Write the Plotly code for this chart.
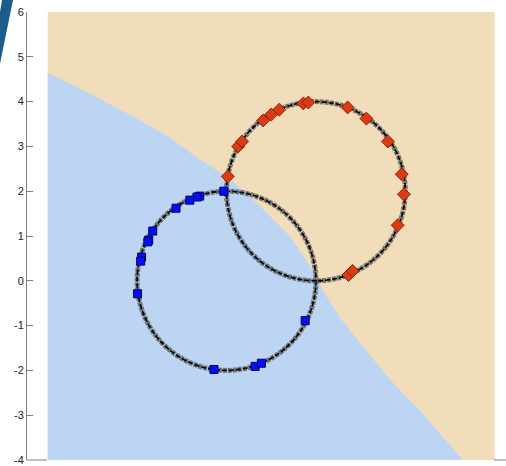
import plotly.graph_objects as go

# ---- data ----
# decision boundary (x, y) separating blue (lower-left) and tan (upper-right) regions
boundary_x = [-4.0, -3.07, -2.17, -1.72, -1.27, -0.60, 0.01, 0.75, 1.43, 1.81, 2.17, 2.55, 3.45, 3.90, 4.35, 4.80, 5.29]
boundary_y = [4.64, 4.18, 3.71, 3.46, 3.20, 2.71, 2.33, 1.67, 0.98, 0.42, -0.24, -0.84, -1.96, -2.47, -2.91, -3.44, -4.0]

# circles (center x, center y, radius)
circle_cx = [0.0, 2.0]
circle_cy = [0.0, 2.0]
circle_r = [2.0, 2.0]

# class 1: blue squares
blue_x = [-0.06, -0.60, -0.66, -0.82, -1.13, -1.65, -1.74, -1.76, -1.90, -1.92, -1.99, -0.28, 0.64, 0.78, 1.76]
blue_y = [2.00, 1.89, 1.87, 1.80, 1.62, 1.11, 0.91, 0.87, 0.53, 0.44, -0.29, -1.98, -1.91, -1.84, -0.89]

# class 2: red diamonds
red_x = [0.03, 0.26, 0.35, 0.82, 1.00, 1.18, 1.72, 1.83, 2.71, 3.13, 3.61, 3.92, 3.97, 3.83, 2.78, 2.73, 2.82]
red_y = [2.33, 3.00, 3.11, 3.58, 3.71, 3.82, 3.96, 3.98, 3.87, 3.62, 3.11, 2.38, 1.93, 1.24, 0.18, 0.13, 0.22]

y_ticks = [-4, -3, -2, -1, 0, 1, 2, 3, 4, 5, 6]
y_ticktext = [str(v) for v in y_ticks]

region_x = [-4.0, 6.0]
region_y = [-4.0, 6.0]

TAN = "#F2DDBB"
BLUE_BG = "#BBD5F3"

W, H = 506, 466
ML, MR, MT, MB = 27, 0, 12, 4
px_per_unit = 44.7
x0_px = 226.5
x_range = [(ML - x0_px) / px_per_unit, (W - MR - x0_px) / px_per_unit]

def px_to_paper(px, py):
    return (px - ML) / (W - ML - MR), (H - MB - py) / (H - MT - MB)

shapes = []
# tan background region
shapes.append(dict(type="rect", xref="x", yref="y", x0=region_x[0], x1=region_x[1],
                   y0=region_y[0], y1=region_y[1], fillcolor=TAN, line=dict(width=0), layer="below"))
# blue region below the boundary
path = "M %f,%f " % (region_x[0], region_y[0])
path += " ".join("L %f,%f" % (bx, by) for bx, by in zip(boundary_x, boundary_y))
path += " Z"
shapes.append(dict(type="path", xref="x", yref="y", path=path, fillcolor=BLUE_BG,
                   line=dict(width=0), layer="below"))
# circles (fuzzy dark ring with a black core)
for cx, cy, r in zip(circle_cx, circle_cy, circle_r):
    shapes.append(dict(type="circle", xref="x", yref="y", x0=cx - r, x1=cx + r, y0=cy - r, y1=cy + r,
                       line=dict(color="rgba(85,85,85,0.75)", width=5, dash="4px,1px"), layer="below"))
    shapes.append(dict(type="circle", xref="x", yref="y", x0=cx - r, x1=cx + r, y0=cy - r, y1=cy + r,
                       line=dict(color="rgba(0,0,0,0.95)", width=1.8, dash="5px,2px"), layer="below"))

# bottom axis line pieces visible outside the image
for (a, b) in [(ML, 47), (494, W)]:
    xa, ya = px_to_paper(a, 462)
    xb, _ = px_to_paper(b, 462)
    shapes.append(dict(type="line", xref="paper", yref="paper", x0=xa, x1=xb, y0=ya, y1=ya,
                       line=dict(color="#808080", width=1)))

# top-left decorative wedge
pts = [(2, 0), (13, 0), (0, 64), (0, 12)]
pp = [px_to_paper(a, b) for a, b in pts]
wedge = "M " + " L ".join("%f,%f" % p for p in pp) + " Z"
shapes.append(dict(type="path", xref="paper", yref="paper", path=wedge, fillcolor="#1D5C8A",
                   line=dict(width=0)))

fig = go.Figure()
fig.add_trace(go.Scatter(x=blue_x, y=blue_y, mode="markers",
                         marker=dict(symbol="square", size=8, color="#0010FF",
                                     line=dict(color="#000060", width=1)),
                         showlegend=False, hoverinfo="skip"))
fig.add_trace(go.Scatter(x=red_x, y=red_y, mode="markers",
                         marker=dict(symbol="diamond", size=10, color="#DC3A12",
                                     line=dict(color="#6E1800", width=0.8)),
                         showlegend=False, hoverinfo="skip"))

fig.update_layout(
    width=W, height=H,
    margin=dict(l=ML, r=MR, t=MT, b=MB),
    paper_bgcolor="white", plot_bgcolor="white",
    shapes=shapes,
    xaxis=dict(range=x_range, showgrid=False, zeroline=False, showline=False,
               showticklabels=False, ticks=""),
    yaxis=dict(range=[-4, 6], showgrid=False, zeroline=False, showline=True,
               linecolor="#808080", linewidth=1, ticks="inside", ticklen=6,
               tickcolor="#808080", tickvals=y_ticks, ticktext=y_ticktext,
               ticklabeloverflow="allow",
               tickfont=dict(family="Liberation Sans, Arial", size=11, color="#222222")),
)

fig.write_html("out.html")
